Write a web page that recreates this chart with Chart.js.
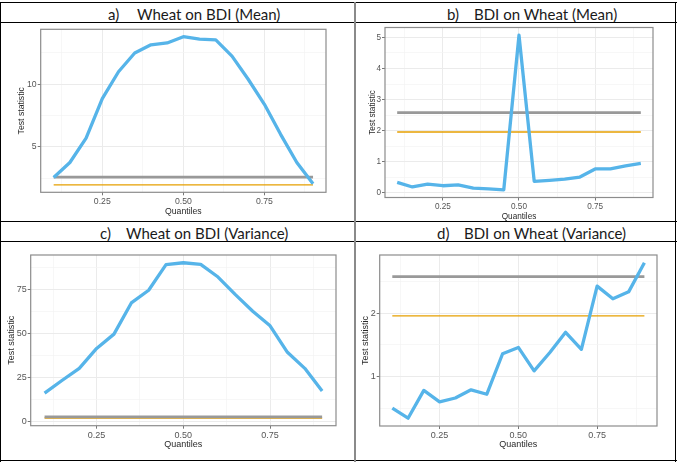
<!DOCTYPE html>
<html>
<head>
<meta charset="utf-8">
<script src="https://cdn.jsdelivr.net/npm/chart.js@4.4.1/dist/chart.umd.min.js"></script>
<style>
  body { margin: 0; background: #fff; width: 677px; height: 462px; position: relative; overflow: hidden; }
  .ln { position: absolute; background: #000; }
  .vl { position: absolute; background: #8a8a8a; }
  .ttl { position: absolute; font-family: Lato, "Open Sans", sans-serif; font-size: 15px; line-height: 20px; color: #1a1a1a; white-space: nowrap; }
  canvas { position: absolute; }
</style>
</head>
<body>
<!-- table lines -->
<div class="ln" style="left:0;top:1.5px;width:677px;height:1.3px"></div>
<div class="ln" style="left:0;top:21.5px;width:677px;height:1.3px"></div>
<div class="ln" style="left:0;top:220.7px;width:677px;height:1.3px"></div>
<div class="ln" style="left:0;top:241.2px;width:677px;height:1.3px"></div>
<div class="ln" style="left:0;top:459.8px;width:677px;height:1.4px"></div>
<div class="ln" style="left:0;top:1.5px;width:1.4px;height:460px"></div>
<div class="ln" style="left:674.8px;top:1.5px;width:1.4px;height:460px"></div>
<div class="vl" style="left:354px;top:1.5px;width:2.2px;height:460px"></div>

<span class="ttl" style="left:108px;top:3.5px">a)</span>
<span class="ttl" style="left:137px;top:3.5px">Wheat on BDI (Mean)</span>
<span class="ttl" style="left:447px;top:3.5px">b)</span>
<span class="ttl" style="left:474px;top:3.5px">BDI on Wheat (Mean)</span>
<span class="ttl" style="left:100px;top:223px">c)</span>
<span class="ttl" style="left:126px;top:223px">Wheat on BDI (Variance)</span>
<span class="ttl" style="left:437px;top:223px">d)</span>
<span class="ttl" style="left:464px;top:223px">BDI on Wheat (Variance)</span>

<canvas id="chartA"></canvas>
<canvas id="chartB"></canvas>
<canvas id="chartC"></canvas>
<canvas id="chartD"></canvas>

<script>
// quantiles on the x axis
const quantiles = [0.1, 0.15, 0.2, 0.25, 0.3, 0.35, 0.4, 0.45, 0.5, 0.55, 0.6, 0.65, 0.7, 0.75, 0.8, 0.85, 0.9];

// test statistics
const wheatOnBdiMean = [2.55, 3.75, 5.7, 8.85, 11.0, 12.5, 13.15, 13.3, 13.8, 13.6, 13.55, 12.25, 10.4, 8.4, 6.0, 3.75, 2.05];
const bdiOnWheatMean = [0.34, 0.19, 0.28, 0.23, 0.26, 0.15, 0.13, 0.10, 5.07, 0.37, 0.40, 0.44, 0.51, 0.77, 0.77, 0.87, 0.95];
const wheatOnBdiVar = [16.0, 23.2, 30.1, 41.4, 49.5, 67.2, 74.4, 88.9, 90.0, 89.1, 81.9, 71.9, 62.5, 54.2, 39.2, 30.1, 17.3];
const bdiOnWheatVar = [0.50, 0.34, 0.78, 0.60, 0.66, 0.79, 0.72, 1.36, 1.46, 1.09, 1.38, 1.70, 1.43, 2.43, 2.23, 2.34, 2.80];

// critical values (1% and 5%)
const crit1 = 2.58;
const crit5 = 1.96;

// axis breaks
const xMajor = [0.25, 0.5, 0.75];
const xMinor = [0.125, 0.375, 0.625, 0.875];
const yMajorA = [5, 10];
const yMinorA = [2.5, 7.5, 12.5];
const yMajorB = [0, 1, 2, 3, 4, 5];
const yMinorB = [0.5, 1.5, 2.5, 3.5, 4.5];
const yMajorC = [0, 25, 50, 75];
const yMinorC = [12.5, 37.5, 62.5, 87.5];
const yMajorD = [1, 2];
const yMinorD = [0.5, 1.5, 2.5];

const tickColor = '#555';
const fontFam = '"Liberation Sans", Arial, sans-serif';

// draws the grey box round the plot area
const framePlugin = {
  id: 'frame',
  afterDraw(chart) {
    const { ctx, chartArea: a } = chart;
    ctx.save();
    ctx.strokeStyle = '#8c8c8c';
    ctx.lineWidth = 1.2;
    ctx.strokeRect(a.left, a.top, a.right - a.left, a.bottom - a.top);
    ctx.restore();
  }
};

// ggplot style 5% expansion of the data range
function expand(values) {
  const lo = Math.min(...values), hi = Math.max(...values);
  const pad = (hi - lo) * 0.05;
  return [lo - pad, hi + pad];
}

function makePanel(id, box, values, yMajor, yMinor, fs) {
  const half = fs * 1.2 / 2;
  const cl = Math.floor(box.yTitle - half - 4);
  const ct = Math.floor(box.top - 14);
  const cw = Math.ceil(box.right + 14 - cl);
  const ch = Math.ceil(box.xTitle + half + 4 - ct);
  const canvas = document.getElementById(id);
  canvas.style.left = cl + 'px';
  canvas.style.top = ct + 'px';
  canvas.width = cw;
  canvas.height = ch;

  const [xMin, xMax] = expand(quantiles);
  const [yMin, yMax] = expand(values.concat([crit1, crit5]));
  const first = quantiles[0], last = quantiles[quantiles.length - 1];

  const xTickList = xMinor.concat(xMajor).sort((p, q) => p - q);
  const yTickList = yMinor.concat(yMajor).sort((p, q) => p - q);

  new Chart(canvas, {
    type: 'line',
    data: {
      datasets: [
        {
          data: quantiles.map((q, i) => ({ x: q, y: values[i] })),
          borderColor: '#56B4E9',
          borderWidth: 3.3,
          borderJoinStyle: 'round',
          pointRadius: 0,
          tension: 0
        },
        {
          data: [{ x: first, y: crit1 }, { x: last, y: crit1 }],
          borderColor: '#999999',
          borderWidth: 2.7,
          pointRadius: 0
        },
        {
          data: [{ x: first, y: crit5 }, { x: last, y: crit5 }],
          borderColor: '#E69F00',
          borderWidth: 1.4,
          pointRadius: 0
        }
      ]
    },
    options: {
      responsive: false,
      animation: false,
      events: [],
      layout: {
        padding: {
          left: box.yTitle - half - cl,
          top: box.top - ct,
          right: cl + cw - box.right,
          bottom: ct + ch - (box.xTitle + half)
        }
      },
      scales: {
        x: {
          type: 'linear',
          bounds: 'data',
          min: xMin,
          max: xMax,
          afterBuildTicks: s => { s.ticks = xTickList.map(v => ({ value: v })); },
          afterFit: s => { s.height = box.xTitle + half - box.bottom; },
          ticks: {
            autoSkip: false,
            maxRotation: 0,
            padding: 1.5,
            color: tickColor,
            font: { family: fontFam, size: fs },
            callback: v => xMajor.includes(v) ? v.toFixed(2) : ''
          },
          grid: {
            color: c => xMajor.includes(c.tick.value) ? '#ebebeb' : '#f3f3f3',
            lineWidth: c => xMajor.includes(c.tick.value) ? 1 : 0.7,
            tickColor: c => xMajor.includes(c.tick.value) ? '#777' : 'rgba(0,0,0,0)',
            tickLength: 3
          },
          border: { display: false },
          title: {
            display: true,
            text: 'Quantiles',
            color: '#2a2a2a',
            padding: 0,
            font: { family: fontFam, size: fs }
          }
        },
        y: {
          type: 'linear',
          bounds: 'data',
          min: yMin,
          max: yMax,
          afterBuildTicks: s => { s.ticks = yTickList.map(v => ({ value: v })); },
          afterFit: s => { s.width = box.left - (box.yTitle - half); },
          ticks: {
            autoSkip: false,
            padding: 1,
            color: tickColor,
            font: { family: fontFam, size: fs },
            callback: v => yMajor.includes(v) ? String(v) : ''
          },
          grid: {
            color: c => yMajor.includes(c.tick.value) ? '#ebebeb' : '#f3f3f3',
            lineWidth: c => yMajor.includes(c.tick.value) ? 1 : 0.7,
            tickColor: c => yMajor.includes(c.tick.value) ? '#777' : 'rgba(0,0,0,0)',
            tickLength: 3
          },
          border: { display: false },
          title: {
            display: true,
            text: 'Test statistic',
            color: '#2a2a2a',
            padding: 0,
            font: { family: fontFam, size: fs }
          }
        }
      },
      plugins: {
        legend: { display: false },
        tooltip: { enabled: false }
      }
    },
    plugins: [framePlugin]
  });
}

makePanel('chartA', { left: 40.7, top: 29.3, right: 326, bottom: 192.3, yTitle: 22, xTitle: 211.7 },
  wheatOnBdiMean, yMajorA, yMinorA, 8.7);
makePanel('chartB', { left: 385, top: 27.5, right: 653, bottom: 197.5, yTitle: 372.3, xTitle: 216.7 },
  bdiOnWheatMean, yMajorB, yMinorB, 8.2);
makePanel('chartC', { left: 30.7, top: 255, right: 336, bottom: 425.7, yTitle: 11.7, xTitle: 445 },
  wheatOnBdiVar, yMajorC, yMinorC, 9);
makePanel('chartD', { left: 379.7, top: 255, right: 657, bottom: 426, yTitle: 366, xTitle: 445 },
  bdiOnWheatVar, yMajorD, yMinorD, 9);
</script>
</body>
</html>
